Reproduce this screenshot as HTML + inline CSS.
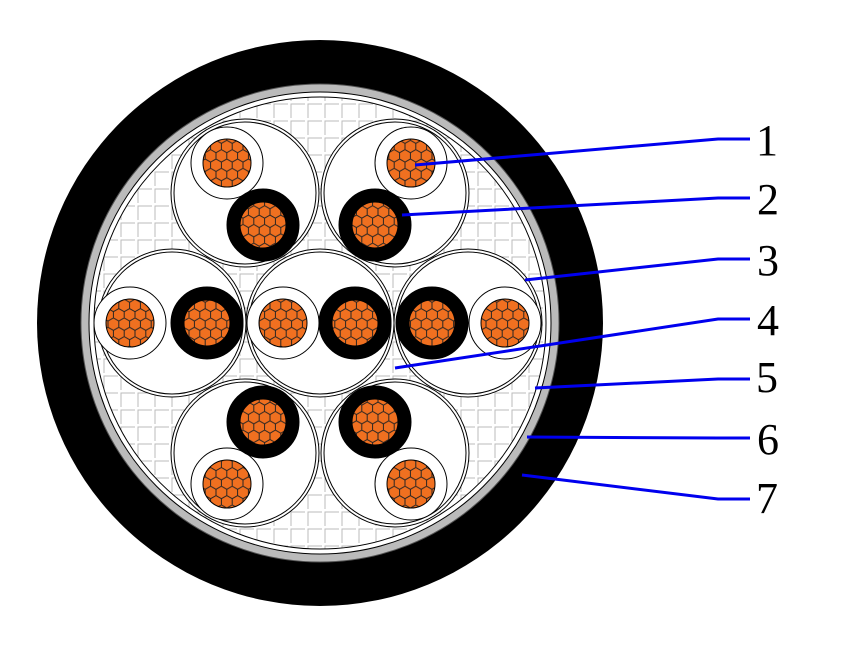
<!DOCTYPE html>
<html><head><style>body{margin:0;background:#fff}svg{display:block}</style></head><body>
<svg width="850" height="650" viewBox="0 0 850 650" xmlns="http://www.w3.org/2000/svg">
<defs>
<pattern id="grid" x="0" y="0" width="17" height="17" patternUnits="userSpaceOnUse">
<rect width="17" height="17" fill="#fff"/>
<path d="M2 16 V2 H16" fill="none" stroke="#bbb" stroke-width="1"/>
</pattern>
<pattern id="hex" x="0" y="0" width="10.8" height="18.7" patternUnits="userSpaceOnUse">
<rect width="10.8" height="18.7" fill="#f07020"/>
<g transform="scale(1.2)">
<path d="M0 2.6 L4.5 0 L9 2.6 M0 2.6 V7.8 L4.5 10.4 L9 7.8 V2.6 M4.5 10.4 V15.6" fill="none" stroke="#222" stroke-width="0.8"/>
</g>
</pattern>
</defs>
<circle cx="320" cy="323" r="283" fill="#000"/>
<circle cx="320" cy="323" r="239" fill="#bbb" stroke="#555" stroke-width="1"/>
<circle cx="320" cy="323" r="231" fill="#fff" stroke="#000" stroke-width="1"/>
<circle cx="320" cy="323" r="226" fill="url(#grid)" stroke="#000" stroke-width="1"/>
<g fill="#fff" stroke="#000" stroke-width="1">
<circle cx="245" cy="193" r="74"/><circle cx="245" cy="193" r="71"/>
<circle cx="395" cy="193" r="74"/><circle cx="395" cy="193" r="71"/>
<circle cx="172" cy="323" r="74"/><circle cx="172" cy="323" r="71"/>
<circle cx="320" cy="323" r="74"/><circle cx="320" cy="323" r="71"/>
<circle cx="468" cy="323" r="74"/><circle cx="468" cy="323" r="71"/>
<circle cx="245" cy="453" r="74"/><circle cx="245" cy="453" r="71"/>
<circle cx="395" cy="453" r="74"/><circle cx="395" cy="453" r="71"/>
</g>
<g stroke="#000" stroke-width="1">
<g fill="#fff">
<circle cx="227" cy="163" r="36"/><circle cx="411" cy="163" r="36"/>
<circle cx="130" cy="323" r="36"/><circle cx="283" cy="323" r="36"/><circle cx="505" cy="323" r="36"/>
<circle cx="227" cy="484" r="36"/><circle cx="411" cy="484" r="36"/>
</g>
<g fill="#000">
<circle cx="263" cy="225" r="36"/><circle cx="375" cy="225" r="36"/>
<circle cx="207" cy="323" r="36"/><circle cx="355" cy="323" r="36"/><circle cx="432" cy="323" r="36"/>
<circle cx="263" cy="422" r="36"/><circle cx="375" cy="422" r="36"/>
</g>
<g fill="url(#hex)">
<circle cx="227" cy="163" r="24"/><circle cx="411" cy="163" r="24"/>
<circle cx="130" cy="323" r="24"/><circle cx="283" cy="323" r="24"/><circle cx="505" cy="323" r="24"/>
<circle cx="227" cy="484" r="24"/><circle cx="411" cy="484" r="24"/>
<circle cx="263" cy="225" r="23"/><circle cx="375" cy="225" r="23"/>
<circle cx="207" cy="323" r="23"/><circle cx="355" cy="323" r="23"/><circle cx="432" cy="323" r="23"/>
<circle cx="263" cy="422" r="23"/><circle cx="375" cy="422" r="23"/>
</g>
</g>
<g fill="none" stroke="#0000ee" stroke-width="3">
<polyline points="415,165 718,139 750,139"/>
<polyline points="402,215 718,198 750,198"/>
<polyline points="525,280 718,259 750,259"/>
<polyline points="395,368 718,319 750,319"/>
<polyline points="535,388 718,379 750,379"/>
<polyline points="527,437 718,438 750,438"/>
<polyline points="522,475 718,499 750,499"/>
</g>
<g font-family="Liberation Serif, serif" font-size="44" fill="#000" text-anchor="middle">
<text x="767" y="155">1</text>
<text x="768" y="214">2</text>
<text x="768" y="275">3</text>
<text x="768" y="335">4</text>
<text x="767" y="392">5</text>
<text x="768" y="454">6</text>
<text x="767" y="513">7</text>
</g>
</svg>
</body></html>
